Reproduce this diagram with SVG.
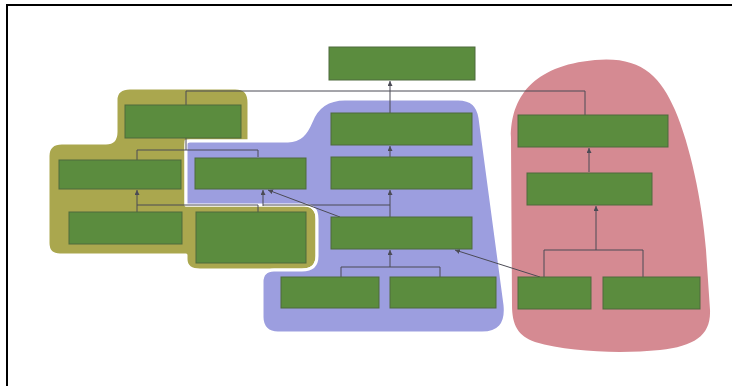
<svg xmlns="http://www.w3.org/2000/svg" width="732" height="386" viewBox="0 0 732 386">
<defs>
<style>
.node{fill:#5b8c3e;stroke:#4e6a3c;stroke-width:1}
.grp{stroke:#ffffff;stroke-width:3;stroke-linejoin:round}
.olive{fill:#aaa74e}
.blue{fill:#9c9edf}
.red{fill:#d58a92;stroke:none}
.con{fill:none;stroke:#4b4b55;stroke-width:1}
</style>
<marker id="ah" viewBox="0 0 10 10" refX="10" refY="5" markerWidth="5" markerHeight="5" markerUnits="userSpaceOnUse" orient="auto">
<path d="M0,0 L10,5 L0,10 z" fill="#4b4b55"/>
</marker>
</defs>
<rect x="0" y="0" width="732" height="386" fill="#ffffff"/>
<rect x="7" y="5" width="730" height="390" fill="none" stroke="#000000" stroke-width="2"/>

<g id="groups">
<path id="group-olive" class="grp olive" d="M130,88 H235 C245,88 249,93 249,103 V141 H186 V205 H304 C313,205 317,210 317,219 V256 C317,265 312,270 302,270 H200 C191,270 186,266 186,259 V255 H60 C52,255 48,251 48,243 V156 C48,148 52,143 62,143 H106 C113,143 116,139 116,132 V100 C116,92 121,88 130,88 Z"/>
<path id="group-blue" class="grp blue" d="M190,141 H288 C300,141 306,134 311,122 C317,106 328,99 345,99 H458 C472,99 478,106 480,118 L505,305 C507,325 498,333 482,333 H278 C268,333 262,327 262,317 V282 C262,275 266,270 274,270 H302 C312,270 317,265 317,256 V219 C317,210 313,205 304,205 H186 V145 C186,142 187,141 190,141 Z"/>
<path id="group-red" class="red" d="M511,140 C510,100 530,66 595,60 C640,56 660,75 675,110 C690,145 702,200 706,250 L710,310 C711,335 695,346 660,350 C620,354 570,352 535,342 C518,336 512,325 512,305 Z"/>
</g>

<g id="connectors">
<path class="con" d="M186,105 V91 H585 V115"/>
<path class="con" d="M390,113 V81" marker-end="url(#ah)"/>
<path class="con" d="M390,157 V146" marker-end="url(#ah)"/>
<path class="con" d="M390,217 V190" marker-end="url(#ah)"/>
<path class="con" d="M263,205 H390"/>
<path class="con" d="M186,138 V150"/>
<path class="con" d="M137,160 V150 H258 V157"/>
<path class="con" d="M137,212 V190" marker-end="url(#ah)"/>
<path class="con" d="M137,205 H258 V212"/>
<path class="con" d="M263,206 V190" marker-end="url(#ah)"/>
<path class="con" d="M340,217 L268,190" marker-end="url(#ah)"/>
<path class="con" d="M390,267 V250" marker-end="url(#ah)"/>
<path class="con" d="M341,277 V267 H440 V277"/>
<path class="con" d="M540,277 L455,250" marker-end="url(#ah)"/>
<path class="con" d="M589,172 V148" marker-end="url(#ah)"/>
<path class="con" d="M596,250 V206" marker-end="url(#ah)"/>
<path class="con" d="M544,277 V250 H643 V277"/>
</g>

<g id="node-top"><rect class="node" x="329" y="47" width="146" height="33"/></g>
<g id="node-olive-top"><rect class="node" x="125" y="105" width="116" height="33"/></g>
<g id="node-olive-mid"><rect class="node" x="59" y="160" width="122" height="29"/></g>
<g id="node-blue-left"><rect class="node" x="195" y="158" width="111" height="31"/></g>
<g id="node-olive-bl"><rect class="node" x="69" y="212" width="113" height="32"/></g>
<g id="node-olive-br"><rect class="node" x="196" y="212" width="110" height="51"/></g>
<g id="node-blue-1"><rect class="node" x="331" y="113" width="141" height="32"/></g>
<g id="node-blue-2"><rect class="node" x="331" y="157" width="141" height="32"/></g>
<g id="node-blue-3"><rect class="node" x="331" y="217" width="141" height="32"/></g>
<g id="node-blue-bl"><rect class="node" x="281" y="277" width="98" height="31"/></g>
<g id="node-blue-br"><rect class="node" x="390" y="277" width="106" height="31"/></g>
<g id="node-red-top"><rect class="node" x="518" y="115" width="150" height="32"/></g>
<g id="node-red-mid"><rect class="node" x="527" y="173" width="125" height="32"/></g>
<g id="node-red-bl"><rect class="node" x="518" y="277" width="73" height="32"/></g>
<g id="node-red-br"><rect class="node" x="603" y="277" width="97" height="32"/></g>
</svg>
